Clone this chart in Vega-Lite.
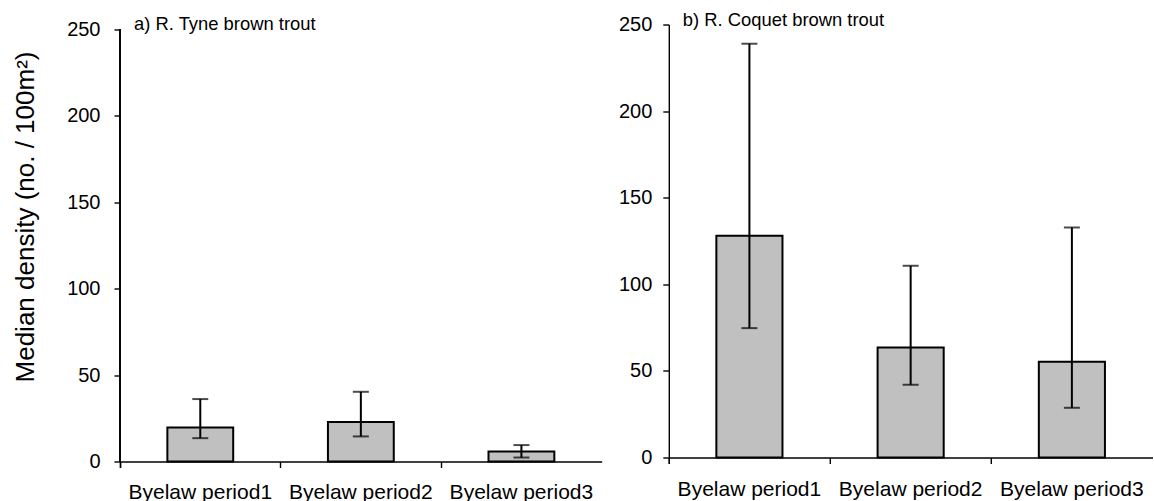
{
  "$schema": "https://vega.github.io/schema/vega-lite/v6.json",
  "background": "white",
  "padding": {"left": 11, "top": 10.5, "right": 0, "bottom": 0},
  "bounds": "flush",
  "spacing": 66.8,
  "config": {
    "font": "Liberation Sans",
    "view": {"stroke": null},
    "axis": {
      "domainColor": "black", "tickColor": "black", "labelColor": "black", "titleColor": "black",
      "grid": false, "tickSize": 6, "domainWidth": 1.4, "tickWidth": 1.4,
      "labelFont": "Liberation Sans", "labelFontSize": 20, "titleFont": "Liberation Sans"
    },
    "title": {"font": "Liberation Sans", "color": "black"}
  },
  "datasets": {
    "tyne": [
      {"period": "Byelaw period1", "median": 19.7, "low": 13.5, "high": 36.1},
      {"period": "Byelaw period2", "median": 22.9, "low": 14.5, "high": 40.3},
      {"period": "Byelaw period3", "median": 5.8, "low": 2.3, "high": 9.5}
    ],
    "coquet": [
      {"period": "Byelaw period1", "median": 128.0, "low": 74.7, "high": 238.9},
      {"period": "Byelaw period2", "median": 63.5, "low": 42.0, "high": 110.7},
      {"period": "Byelaw period3", "median": 55.3, "low": 28.7, "high": 132.8}
    ]
  },
  "hconcat": [
    {
      "width": 481.7,
      "height": 437,
      "data": {"name": "tyne"},
      "title": {"text": "a) R. Tyne brown trout", "anchor": "start", "frame": "group", "fontSize": 18.4, "fontWeight": "normal", "dx": 14, "offset": -29.3, "baseline": "alphabetic"},
      "encoding": {
        "x": {
          "field": "period", "type": "nominal", "sort": null,
          "scale": {"paddingInner": 0, "paddingOuter": 0},
          "axis": {"title": null, "bandPosition": 0, "tickExtra": true, "labelAngle": 0, "labelFontSize": 21, "labelPadding": 14}
        }
      },
      "layer": [
        {
          "mark": {"type": "bar", "fill": "#c0c0c0", "stroke": "black", "strokeWidth": 2, "width": {"band": 0.41}},
          "encoding": {
            "y": {
              "field": "median", "type": "quantitative",
              "scale": {"domain": [0, 252.66], "nice": false, "zero": true},
              "axis": {
                "title": "Median density (no. / 100m²)", "values": [0, 50, 100, 150, 200, 250], "domain": false,
                "labelPadding": 14, "titleFontSize": 26, "titleFontWeight": "normal",
                "titleX": -95, "titleY": 192, "titleAngle": -90, "titleAlign": "center", "titleBaseline": "middle"
              }
            }
          }
        },
        {
          "mark": {"type": "rule", "color": "black", "strokeWidth": 1.4},
          "encoding": {
            "x": {"datum": "Byelaw period1", "type": "nominal", "bandPosition": 0},
            "y": {"datum": 0, "type": "quantitative"},
            "y2": {"datum": 250}
          }
        },
        {
          "mark": {"type": "rule", "color": "black", "strokeWidth": 2},
          "encoding": {"y": {"field": "low", "type": "quantitative"}, "y2": {"field": "high"}}
        },
        {
          "mark": {"type": "tick", "color": "black", "thickness": 2, "size": 16},
          "encoding": {"y": {"field": "low", "type": "quantitative"}}
        },
        {
          "mark": {"type": "tick", "color": "black", "thickness": 2, "size": 16},
          "encoding": {"y": {"field": "high", "type": "quantitative"}}
        }
      ]
    },
    {
      "width": 483.7,
      "height": 433,
      "data": {"name": "coquet"},
      "title": {"text": "b) R. Coquet brown trout", "anchor": "start", "frame": "group", "fontSize": 18.4, "fontWeight": "normal", "dx": 14, "offset": -30, "baseline": "alphabetic"},
      "encoding": {
        "x": {
          "field": "period", "type": "nominal", "sort": null,
          "scale": {"paddingInner": 0, "paddingOuter": 0},
          "axis": {"title": null, "bandPosition": 0, "tickExtra": true, "labelAngle": 0, "labelFontSize": 21, "labelPadding": 15}
        }
      },
      "layer": [
        {
          "mark": {"type": "bar", "fill": "#c0c0c0", "stroke": "black", "strokeWidth": 2, "width": {"band": 0.41}},
          "encoding": {
            "y": {
              "field": "median", "type": "quantitative",
              "scale": {"domain": [0, 250], "nice": false, "zero": true},
              "axis": {"title": null, "values": [0, 50, 100, 150, 200, 250], "labelPadding": 11}
            }
          }
        },
        {
          "mark": {"type": "rule", "color": "black", "strokeWidth": 2},
          "encoding": {"y": {"field": "low", "type": "quantitative"}, "y2": {"field": "high"}}
        },
        {
          "mark": {"type": "tick", "color": "black", "thickness": 2, "size": 16},
          "encoding": {"y": {"field": "low", "type": "quantitative"}}
        },
        {
          "mark": {"type": "tick", "color": "black", "thickness": 2, "size": 16},
          "encoding": {"y": {"field": "high", "type": "quantitative"}}
        }
      ]
    }
  ]
}
